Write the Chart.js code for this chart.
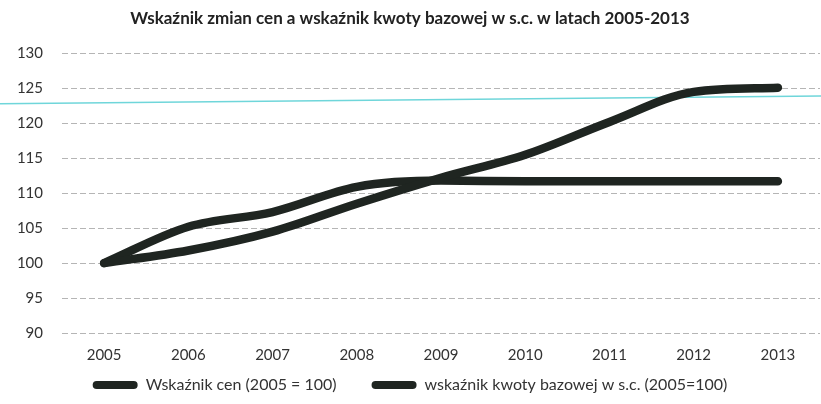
<!DOCTYPE html>
<html>
<head>
<meta charset="utf-8">
<script src="https://cdn.jsdelivr.net/npm/chart.js@4.4.1/dist/chart.umd.min.js"></script>
<style>
  html, body { margin: 0; padding: 0; background: #fff; }
  #wrap { width: 821px; height: 404px; position: relative; }
</style>
</head>
<body>
<div id="wrap"><canvas id="c" width="821" height="404"></canvas></div>
<script>
const years = ['2005','2006','2007','2008','2009','2010','2011','2012','2013'];
const priceIndex = [100, 101.8, 104.5, 108.5, 112.2, 115.5, 120.2, 124.5, 125.1];
const quotaIndex = [100, 105.2, 107.3, 110.9, 111.8, 111.7, 111.7, 111.7, 111.7];
const seriesNames = ['Wskaźnik cen (2005 = 100)', 'wskaźnik kwoty bazowej w s.c. (2005=100)'];
const titleText = 'Wskaźnik zmian cen a wskaźnik kwoty bazowej w s.c. w latach 2005-2013';
const yMin = 90, yMax = 130, yStep = 5;

const lineColor = '#1f2521';
const legendGap = 35;

const scanLine = {
  id: 'scanLine',
  beforeDatasetsDraw(chart) {
    const y = chart.scales.y;
    const ctx = chart.ctx;
    ctx.save();
    ctx.strokeStyle = '#6fd6da';
    ctx.lineWidth = 1.5;
    ctx.beginPath();
    ctx.moveTo(0, y.getPixelForValue(122.8));
    ctx.lineTo(chart.width, y.getPixelForValue(123.9));
    ctx.stroke();
    ctx.restore();
  }
};

// place legend row just below the x-axis labels (the wide item gap would otherwise push it down)
const legendPlacer = {
  id: 'legendPlacer',
  afterLayout(chart) {
    const lg = chart.legend;
    lg.top = chart.scales.x.bottom - legendGap;
    lg.bottom = chart.height;
    lg.height = lg.bottom - lg.top;
  }
};

new Chart(document.getElementById('c'), {
  type: 'line',
  data: {
    labels: years,
    datasets: [
      { label: seriesNames[0], data: priceIndex, borderColor: lineColor, backgroundColor: lineColor,
        borderWidth: 8.5, pointRadius: 0, borderCapStyle: 'round', borderJoinStyle: 'round',
        cubicInterpolationMode: 'monotone' },
      { label: seriesNames[1], data: quotaIndex, borderColor: lineColor, backgroundColor: lineColor,
        borderWidth: 8.5, pointRadius: 0, borderCapStyle: 'round', borderJoinStyle: 'round',
        cubicInterpolationMode: 'monotone' }
    ]
  },
  options: {
    responsive: false,
    animation: false,
    layout: { padding: { left: 0, right: 1, top: 0, bottom: 0 } },
    plugins: {
      title: {
        display: true, text: titleText, color: '#222',
        font: { family: 'Lato', size: 17, weight: 'bold' },
        padding: { top: 8, bottom: 25 }
      },
      legend: {
        position: 'bottom',
        maxHeight: 27,
        labels: {
          color: '#333',
          font: { family: 'Lato', size: 16 },
          boxWidth: 45, boxHeight: 8,
          useBorderRadius: true, borderRadius: 4,
          padding: legendGap,
          generateLabels(chart) {
            return Chart.defaults.plugins.legend.labels.generateLabels(chart).map(l => {
              l.lineWidth = 0; l.fillStyle = lineColor; l.strokeStyle = lineColor; return l;
            });
          }
        }
      },
      tooltip: { enabled: false }
    },
    scales: {
      x: {
        offset: true,
        grid: { display: false, drawTicks: false },
        border: { display: false },
        ticks: { color: '#333', font: { family: 'Lato', size: 15 }, padding: 13, maxRotation: 0 }
      },
      y: {
        min: yMin, max: yMax,
        afterFit(s) { s.width = 62; },
        grid: { color: '#b5b5b5', lineWidth: 1, drawTicks: false },
        border: { display: false, dash: [6, 3] },
        ticks: { stepSize: yStep, color: '#333', font: { family: 'Lato', size: 15 }, padding: 19 }
      }
    }
  },
  plugins: [scanLine, legendPlacer]
});
</script>
</body>
</html>
